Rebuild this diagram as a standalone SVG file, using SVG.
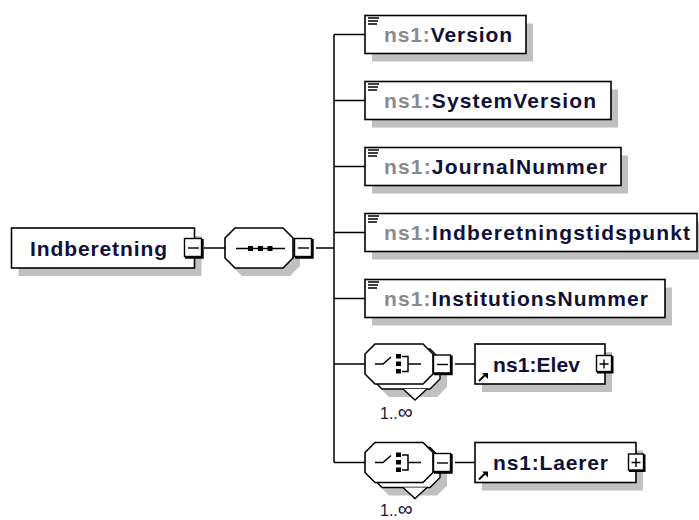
<svg xmlns="http://www.w3.org/2000/svg" xmlns:xlink="http://www.w3.org/1999/xlink" width="699" height="520" viewBox="0 0 699 520">
<style>
.box{fill:#fff;stroke:#000;stroke-width:1.6}
.sh{fill:#c0c0c0}
.ln{stroke:#000;stroke-width:1.5;fill:none}
.t{font-family:"Liberation Sans",Arial,sans-serif;font-weight:bold;font-size:21px;fill:#101038}
.ns{fill:#8a8a8a}
.occ{font-family:"Liberation Sans",Arial,sans-serif;font-size:16px;fill:#20103a}
.inf{font-size:21px}
</style>
<defs>
<g id="minus">
<rect x="0.5" y="0.5" width="17" height="18" fill="#fff" stroke="#000" stroke-width="1.4"/>
<path d="M18.5 1V19.5H1" fill="none" stroke="#000" stroke-width="2.4"/>
<path d="M4 10H15" stroke="#000" stroke-width="1.4"/>
</g>
<g id="plus">
<rect x="0.5" y="0.5" width="15" height="16" fill="#fff" stroke="#000" stroke-width="1.4"/>
<path d="M16.5 1V17.5H1" fill="none" stroke="#000" stroke-width="2"/>
<path d="M3.5 9H12.5M8 4.5V13.5" stroke="#000" stroke-width="1.4"/>
</g>
<g id="lines3">
<path d="M0 0H11M0 3H10M0 6H9" stroke="#000" stroke-width="1.5"/>
</g>
<g id="choice">
<polygon class="sh" points="389,357 437,357 447,367 447,387 437,397 389,397 379,387 379,367"/>
<polygon points="382,349 430,349 440,359 440,379 430,389 382,389 372,379 372,359" fill="#fff" stroke="#000" stroke-width="1.4"/>
<polyline points="403,389 415,400 427,389" fill="#fff" stroke="#000" stroke-width="1.4"/>
<polygon points="375,344 423,344 433,354 433,374 423,384 375,384 365,374 365,354" fill="#fff" stroke="#000" stroke-width="1.6"/>
<path d="M375 364H383L391 357" class="ln"/>
<rect x="396" y="354" width="5" height="4.5" fill="#000"/>
<rect x="396" y="361.5" width="5" height="4.5" fill="#000"/>
<rect x="396" y="369" width="5" height="4.5" fill="#000"/>
<path d="M402 356.5H408V371.5H402M408 364H421" class="ln"/>
<use xlink:href="#minus" x="433" y="354.5"/>
</g>
<g id="refarrow">
<path d="M0 8L6 2" stroke="#000" stroke-width="2"/>
<polygon points="3,0 9,0 9,6" fill="#000"/>
</g>
</defs>

<g id="connectors">
<path class="ln" d="M204 248H225M316 248H334M334 34.5V462.5"/>
<path class="ln" d="M334 34.5H365M334 100.5H365M334 166.5H365M334 232.5H365M334 298.5H365M334 364H365M334 462.5H365"/>
<path class="ln" d="M455 364H475M455 462.5H475"/>
</g>

<g id="node-Indberetning">
<rect class="sh" x="18.5" y="236" width="183" height="40"/>
<rect class="box" x="11.5" y="228" width="183" height="40"/>
<text class="t" x="30" y="255.5" textLength="137" lengthAdjust="spacing">Indberetning</text>
<use xlink:href="#minus" x="184" y="238"/>
</g>

<g id="node-sequence">
<polygon class="sh" points="242,236 290,236 300,246 300,266 290,276 242,276 232,266 232,246"/>
<polygon points="235,228 283,228 293,238 293,258 283,268 235,268 225,258 225,238" fill="#fff" stroke="#000" stroke-width="1.6"/>
<path class="ln" d="M236 248.5H285"/>
<rect x="248" y="246" width="5" height="5" fill="#000"/>
<rect x="258" y="246" width="5" height="5" fill="#000"/>
<rect x="267.5" y="246" width="5" height="5" fill="#000"/>
<use xlink:href="#minus" x="294" y="238"/>
</g>

<g id="node-Version">
<rect class="sh" x="372" y="23.5" width="161" height="38"/>
<rect class="box" x="365" y="15.5" width="161" height="38"/>
<use xlink:href="#lines3" x="368" y="18"/>
<text class="t" x="384" y="42" textLength="128" lengthAdjust="spacing"><tspan class="ns">ns1:</tspan>Version</text>
</g>

<g id="node-SystemVersion">
<rect class="sh" x="372" y="89.5" width="246" height="38"/>
<rect class="box" x="365" y="81.5" width="246" height="38"/>
<use xlink:href="#lines3" x="368" y="84"/>
<text class="t" x="384" y="108" textLength="212" lengthAdjust="spacing"><tspan class="ns">ns1:</tspan>SystemVersion</text>
</g>

<g id="node-JournalNummer">
<rect class="sh" x="372" y="155.5" width="256" height="38"/>
<rect class="box" x="365" y="147.5" width="256" height="38"/>
<use xlink:href="#lines3" x="368" y="150"/>
<text class="t" x="384" y="174" textLength="223" lengthAdjust="spacing"><tspan class="ns">ns1:</tspan>JournalNummer</text>
</g>

<g id="node-Indberetningstidspunkt">
<rect class="sh" x="372" y="221.5" width="332" height="38"/>
<rect class="box" x="365" y="213.5" width="332" height="38"/>
<use xlink:href="#lines3" x="368" y="216"/>
<text class="t" x="384" y="240" textLength="306" lengthAdjust="spacing"><tspan class="ns">ns1:</tspan>Indberetningstidspunkt</text>
</g>

<g id="node-InstitutionsNummer">
<rect class="sh" x="372" y="287.5" width="300" height="38"/>
<rect class="box" x="365" y="279.5" width="300" height="38"/>
<use xlink:href="#lines3" x="368" y="282"/>
<text class="t" x="384" y="306" textLength="264" lengthAdjust="spacing"><tspan class="ns">ns1:</tspan>InstitutionsNummer</text>
</g>

<g id="node-choice-Elev">
<use xlink:href="#choice"/>
<text class="occ" x="380" y="419">1..<tspan class="inf">∞</tspan></text>
</g>

<g id="node-Elev">
<rect class="sh" x="482" y="352" width="130" height="40"/>
<rect class="box" x="475" y="344" width="130" height="40"/>
<use xlink:href="#refarrow" x="479" y="373"/>
<text class="t" x="493" y="371.5" textLength="87" lengthAdjust="spacing">ns1:Elev</text>
<use xlink:href="#plus" x="596" y="355"/>
</g>

<g id="node-choice-Laerer">
<use xlink:href="#choice" y="98.5"/>
<text class="occ" x="380" y="516">1..<tspan class="inf">∞</tspan></text>
</g>

<g id="node-Laerer">
<rect class="sh" x="482" y="450.5" width="161" height="40"/>
<rect class="box" x="475" y="442.5" width="161" height="40"/>
<use xlink:href="#refarrow" x="479" y="471.5"/>
<text class="t" x="493" y="470" textLength="115" lengthAdjust="spacing">ns1:Laerer</text>
<use xlink:href="#plus" x="628" y="453.5"/>
</g>
</svg>
